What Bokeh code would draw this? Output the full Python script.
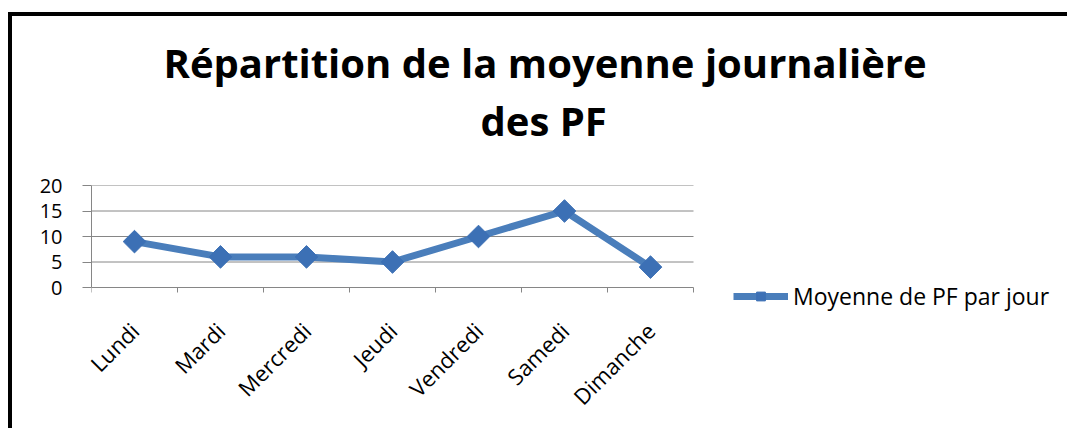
import math
from bokeh.plotting import figure
from bokeh.models import (Range1d, LinearAxis, FixedTicker, Title, Legend, LegendItem,
                          ColumnDataSource)
from bokeh.embed import file_html
from bokeh.resources import INLINE

days = ["Lundi", "Mardi", "Mercredi", "Jeudi", "Vendredi", "Samedi", "Dimanche"]
values = [9, 6, 6, 5, 10, 15, 4]
y_ticks = [0, 5, 10, 15, 20]
series_name = "Moyenne de PF par jour"
title_lines = ["Répartition de la moyenne journalière", "des PF"]

GRAY = "#868686"
BLUE = "#4A7EBB"
FONT = "Open Sans"

# layout constants (pixels)
PLOT_W, PLOT_H = 602, 102      # drawn chart area (axes box)
FRAME_W, FRAME_H = 976, 133    # bokeh frame, extended right/down to hold the legend

n = len(days)
y_max = y_ticks[-1]
centers = [i + 0.5 for i in range(n)]          # category slot centres
bounds = list(range(n + 1))                     # category slot boundaries
src = ColumnDataSource(dict(x=centers, y=values, day=days))
grid_src = ColumnDataSource(dict(x0=[0] * (len(y_ticks) - 1), x1=[n] * (len(y_ticks) - 1),
                                 y=y_ticks[1:]))

x_end = n * FRAME_W / PLOT_W
y_start = -y_max * (FRAME_H - PLOT_H) / PLOT_H

p = figure(frame_width=FRAME_W, frame_height=FRAME_H,
           x_range=Range1d(0, x_end), y_range=Range1d(y_start, y_max),
           x_axis_location=None, output_backend="svg", toolbar_location=None,
           min_border_left=79, min_border_right=0, min_border_top=169, min_border_bottom=110)
p.outline_line_color = None
p.background_fill_color = "white"
p.border_fill_color = "white"
p.margin = (12, 0, 0, 8)
p.styles = {"border-left": "4px solid black", "border-top": "4px solid black"}
p.xgrid.visible = False
p.ygrid.visible = False

# horizontal gridlines over the category area
p.segment(x0="x0", x1="x1", y0="y", y1="y", source=grid_src, line_color=GRAY, line_width=1)

# y axis
yax = p.yaxis[0]
yax.ticker = FixedTicker(ticks=y_ticks)
yax.bounds = (0, y_max)
yax.axis_line_color = GRAY
yax.major_tick_line_color = GRAY
yax.major_tick_out = 9
yax.major_tick_in = 0
yax.minor_tick_line_color = None
yax.major_label_text_font = FONT
yax.major_label_text_font_size = "20px"
yax.major_label_text_color = "black"
yax.major_label_standoff = 20

# x axis: boundary ticks + axis line at y = 0
bax = LinearAxis(ticker=FixedTicker(ticks=bounds), fixed_location=0, bounds=(0, n),
                 major_label_overrides={b: "" for b in bounds},
                 major_label_text_font_size="1px", major_label_standoff=0,
                 major_tick_out=5, major_tick_in=0, minor_tick_line_color=None,
                 axis_line_color=GRAY, major_tick_line_color=GRAY)
p.add_layout(bax, "below")

# x axis: category labels at slot centres, in the panel below the frame
cax = LinearAxis(ticker=FixedTicker(ticks=centers),
                 major_label_overrides={c: d for c, d in zip(centers, days)},
                 major_tick_line_color=None, axis_line_color=None, minor_tick_line_color=None,
                 major_label_orientation=math.pi / 4,
                 major_label_text_font=FONT, major_label_text_font_size="22px",
                 major_label_text_color="black", major_label_standoff=2)
p.add_layout(cax, "below")

# series
r_line = p.line("x", "y", source=src, line_width=7, line_color=BLUE)
r_mark = p.scatter("x", "y", source=src, marker="square", angle=math.pi / 4, size=16,
                   fill_color="#3C70B5", line_color="#3C70B5")

legend = Legend(items=[LegendItem(label=series_name, renderers=[r_line, r_mark])],
                location=(642, 6), border_line_color=None, background_fill_alpha=0,
                padding=0, margin=0, glyph_width=55, glyph_height=22, label_standoff=5,
                label_text_font=FONT, label_text_font_size="23px", label_text_color="black")
p.add_layout(legend)

# title (two lines, stacked outward from the plot area; first a small spacer)
p.add_layout(Title(text=" ", standoff=34, text_font=FONT, text_font_size="1px"), "above")
p.add_layout(Title(text=title_lines[1], align="left", offset=389, standoff=2,
                   text_font=FONT, text_font_style="bold", text_font_size="40px",
                   text_color="black"), "above")
p.add_layout(Title(text=title_lines[0], align="left", offset=72, standoff=0,
                   text_font=FONT, text_font_style="bold", text_font_size="40px",
                   text_color="black"), "above")

open("out.html", "w").write(file_html(p, INLINE))
